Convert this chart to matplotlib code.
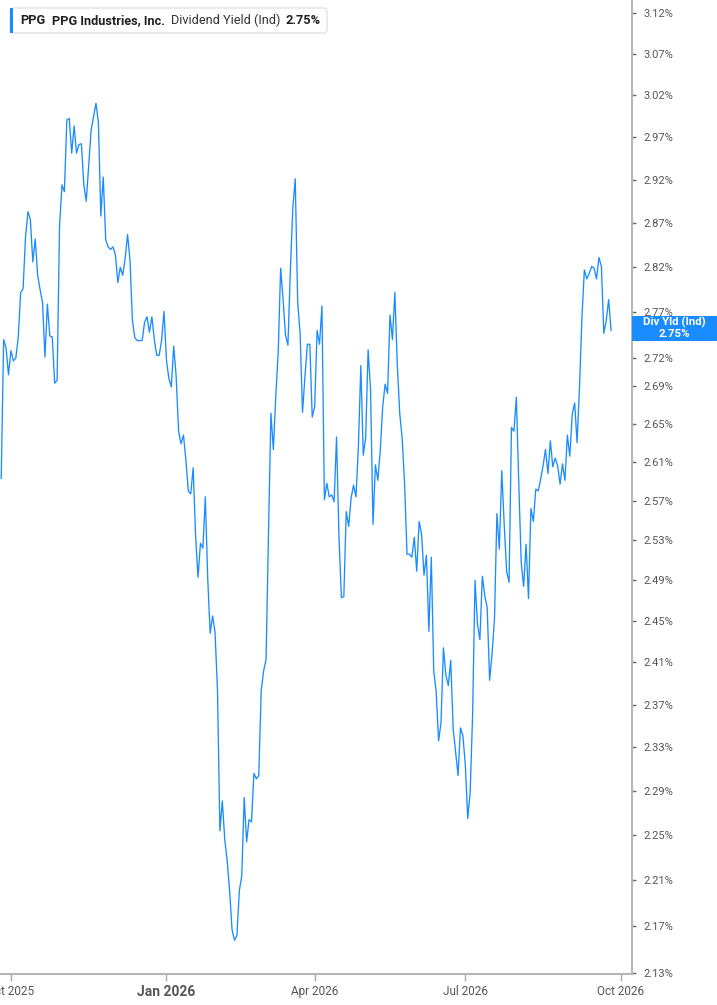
import matplotlib
matplotlib.use("Agg")
import matplotlib.pyplot as plt
from matplotlib.patches import FancyBboxPatch, Rectangle
from matplotlib.ticker import FixedLocator, NullLocator
import numpy as np
import pandas as pd

# ---------------- data (dividend yield, %, one value per trading day) ----------------
yield_q4_2025 = [
    2.593, 2.740, 2.731, 2.702, 2.728, 2.717, 2.720, 2.742, 2.792, 2.796,
    2.854, 2.883, 2.874, 2.826, 2.852, 2.811, 2.795, 2.781, 2.721, 2.779,
    2.744, 2.743, 2.693, 2.696, 2.866, 2.914, 2.906, 2.990, 2.992, 2.951,
    2.983, 2.951, 2.961, 2.962, 2.914, 2.895, 2.937, 2.978, 2.994, 3.010,
    2.987, 2.878, 2.923, 2.851, 2.843, 2.840, 2.843, 2.834, 2.803, 2.820,
    2.811, 2.830, 2.857, 2.828, 2.761, 2.742, 2.739, 2.739, 2.739, 2.759,
    2.765, 2.748, 2.765, 2.740, 2.723, 2.723, 2.739, 2.771,
]
yield_q1_2026 = [
    2.718, 2.698, 2.689, 2.733, 2.700, 2.642, 2.629, 2.638, 2.612, 2.580,
    2.577, 2.604, 2.534, 2.493, 2.527, 2.522, 2.574, 2.491, 2.438, 2.455,
    2.439, 2.384, 2.254, 2.281, 2.246, 2.227, 2.201, 2.167, 2.158, 2.162,
    2.201, 2.214, 2.284, 2.244, 2.264, 2.262, 2.306, 2.301, 2.304, 2.383,
    2.402, 2.413, 2.537, 2.661, 2.623, 2.679, 2.727, 2.819, 2.784, 2.745,
    2.734, 2.817, 2.887, 2.921, 2.782, 2.747, 2.662, 2.700, 2.735, 2.735,
    2.657, 2.668, 2.750, 2.735,
]
yield_q2_2026 = [
    2.777, 2.571, 2.588, 2.574, 2.576, 2.569, 2.636, 2.534, 2.473, 2.474,
    2.559, 2.544, 2.573, 2.586, 2.574, 2.626, 2.712, 2.617, 2.636, 2.729,
    2.686, 2.546, 2.607, 2.591, 2.622, 2.668, 2.692, 2.682, 2.767, 2.740,
    2.792, 2.713, 2.661, 2.635, 2.588, 2.516, 2.516, 2.513, 2.533, 2.499,
    2.549, 2.536, 2.495, 2.515, 2.440, 2.513, 2.402, 2.382, 2.336, 2.353,
    2.424, 2.398, 2.388, 2.412, 2.347, 2.326, 2.304, 2.348, 2.341, 2.314,
    2.265, 2.289, 2.360,
]
yield_q3_2026 = [
    2.490, 2.447, 2.432, 2.494, 2.475, 2.463, 2.393, 2.418, 2.452, 2.557,
    2.521, 2.601, 2.546, 2.499, 2.488, 2.646, 2.642, 2.678, 2.588, 2.508,
    2.484, 2.526, 2.472, 2.562, 2.549, 2.582, 2.580, 2.592, 2.606, 2.623,
    2.598, 2.632, 2.605, 2.614, 2.606, 2.587, 2.608, 2.591, 2.638, 2.616,
    2.660, 2.672, 2.630, 2.689, 2.765, 2.817, 2.807, 2.813, 2.821, 2.819,
    2.807, 2.831, 2.821, 2.747, 2.761, 2.784, 2.750,
]
market_holidays = ["2025-11-27", "2025-12-25", "2026-01-01", "2026-01-19",
                   "2026-02-16", "2026-04-03", "2026-05-25", "2026-06-19",
                   "2026-07-03", "2026-09-07"]
calendar_start = "2025-09-24"
first_date = "2025-09-25"
calendar_end = "2026-10-20"

y_ticks = [3.12, 3.07, 3.02, 2.97, 2.92, 2.87, 2.82, 2.77, 2.72, 2.69, 2.65,
           2.61, 2.57, 2.53, 2.49, 2.45, 2.41, 2.37, 2.33, 2.29, 2.25, 2.21,
           2.17, 2.13]
x_tick_dates = ["2025-10-01", "2026-01-01", "2026-04-01", "2026-07-01", "2026-10-01"]
x_tick_labels = ["Oct 2025", "Jan 2026", "Apr 2026", "Jul 2026", "Oct 2026"]

ticker = "PPG"
company = "PPG Industries, Inc."
metric = "Dividend Yield (Ind)"
badge = "Div Yld (Ind)"

values = yield_q4_2025 + yield_q1_2026 + yield_q2_2026 + yield_q3_2026
# trading-session calendar; the chart spaces trading sessions evenly
sessions = pd.bdate_range(calendar_start, calendar_end, freq="C",
                          holidays=market_holidays)
start_idx = sessions.searchsorted(pd.Timestamp(first_date))
dates = sessions[start_idx: start_idx + len(values)]
pos = np.arange(start_idx, start_idx + len(values))   # session index
tick_pos = [sessions.searchsorted(pd.Timestamp(d)) for d in x_tick_dates]
last_value = values[-1]

# ---------------- figure ----------------
W, H = 717, 1005
BLUE = "#1a8cff"
fig = plt.figure(figsize=(W / 100, H / 100), dpi=100)
ax = fig.add_axes([0, (H - 974) / H, 632 / W, 974 / H])

ax.plot(pos, values, color=BLUE, lw=0.95)

ax.set_yscale("log")
ax.set_ylim(2.1292, 3.1362)
ax.set_xlim(0.5, 260.6)

ax.yaxis.tick_right()
ax.yaxis.set_major_locator(FixedLocator(y_ticks))
ax.yaxis.set_minor_locator(NullLocator())
ax.set_yticklabels([f"{v:.2f}%" for v in y_ticks])
ax.tick_params(axis="y", which="major", direction="out", length=3, width=1,
               color="#666666", labelcolor="#555555", labelsize=8, pad=5)
for lab in ax.get_yticklabels():
    lab.set_fontfamily("Roboto")

ax.set_xticks(tick_pos)
ax.set_xticks([], minor=True)
ax.set_xticklabels(x_tick_labels)
ax.tick_params(axis="x", which="major", direction="out", length=5, width=1,
               color="#aaaaaa", labelcolor="#555555", labelsize=8.5, pad=3)
for lab in ax.get_xticklabels():
    lab.set_fontfamily("Roboto")
    if lab.get_text() == "Jan 2026":
        lab.set_fontweight("bold")
        lab.set_fontsize(10)

for s in ["top", "left"]:
    ax.spines[s].set_visible(False)
for s in ["right", "bottom"]:
    ax.spines[s].set_color("#b5b5b5")
    ax.spines[s].set_linewidth(1.5)


def fx(px):
    return px / W


def fy(py):
    return 1 - py / H


# right-side value badge
fig.add_artist(Rectangle((fx(632), fy(341)), fx(85), 25 / H,
                         transform=fig.transFigure, facecolor=BLUE,
                         edgecolor="none", zorder=5))
fig.text(fx(674), fy(322.5), badge, color="white", fontsize=8.2,
         fontweight="bold", ha="center", va="center", family="Roboto", zorder=6)
fig.text(fx(674), fy(334), f"{last_value:.2f}%", color="white", fontsize=8.2,
         fontweight="bold", ha="center", va="center", family="Roboto", zorder=6)

# top-left legend box
fig.add_artist(FancyBboxPatch((fx(10), fy(33)), fx(317), 25 / H,
                              boxstyle="round,pad=0,rounding_size=0.004",
                              transform=fig.transFigure, facecolor="white",
                              edgecolor="#e3e3e3", lw=1, zorder=5))
fig.add_artist(Rectangle((fx(10), fy(33)), fx(3), 25 / H,
                         transform=fig.transFigure, facecolor=BLUE,
                         edgecolor="none", zorder=6))
ty = fy(20.5)
fig.text(fx(20), ty, ticker, fontsize=9.2, fontweight="bold", color="#222222",
         va="center", family="Roboto", zorder=7)
fig.text(fx(52), ty, company, fontsize=9.2, fontweight="bold", color="#222222",
         va="center", family="Roboto", zorder=7)
fig.text(fx(171), ty, metric, fontsize=9.2, color="#333333",
         va="center", family="Roboto", zorder=7)
fig.text(fx(286), ty, f"{last_value:.2f}%", fontsize=9.2, fontweight="bold",
         color="#222222", va="center", family="Roboto", zorder=7)

fig.savefig("out.png", dpi=100)
